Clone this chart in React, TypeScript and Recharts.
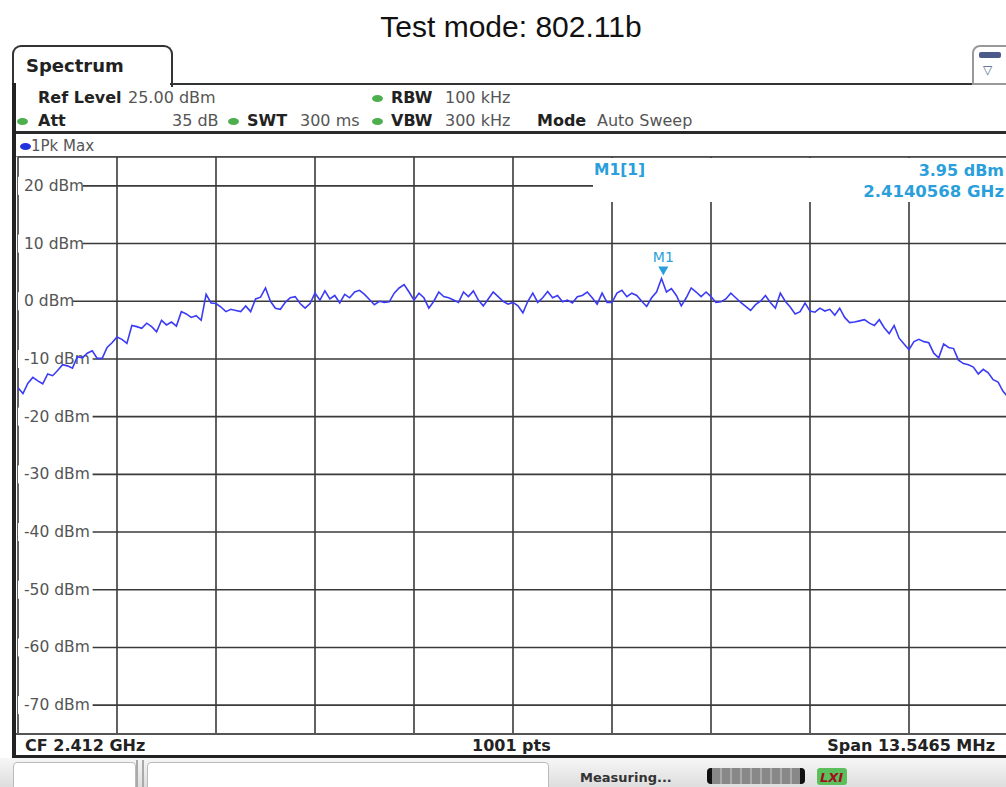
import { LineChart, Line, XAxis, YAxis, CartesianGrid, ReferenceDot } from 'recharts';

const cfGHz = 2.412;
const spanGHz = 0.0135465;
const sweepSteps = 200;

// 1Pk Max trace in dBm, 20 readings per grid division, left to right
const traceDbm = [
  -15.0, -16.0, -14.2, -13.2, -13.8, -14.3, -12.6, -12.9, -12.0, -11.0, -11.2, -11.6, -9.6, -9.8, -9.0, -8.6, -9.9, -9.9, -8.0, -7.2,
  -6.2, -6.6, -7.3, -4.2, -4.4, -4.7, -3.8, -4.4, -5.3, -3.3, -4.1, -3.6, -4.3, -1.8, -2.2, -2.8, -2.5, -3.3, 1.2, -0.3,
  -0.4, -1.0, -1.8, -1.4, -1.6, -1.8, -0.8, -1.8, 0.4, 0.7, 2.3, 0.0, -1.2, -1.4, -0.2, 0.6, 0.8, -0.4, -1.2, -0.4,
  1.4, 0.2, 1.8, 0.4, 1.0, -0.3, 1.2, 0.6, 1.6, 1.9, 1.2, 0.3, -0.6, 0.0, -0.2, -0.1, 1.4, 2.3, 2.9, 1.6,
  0.2, 1.4, 0.6, -1.2, 0.0, 1.6, 0.8, 0.6, 0.2, -0.2, 1.6, 0.8, 1.8, 0.2, -0.8, 0.4, 1.6, 0.8, 0.0, -0.5,
  -0.2, -0.8, -2.0, 0.0, 1.4, -0.2, 0.6, 1.7, 0.6, 1.0, -0.1, 0.2, -0.3, 0.8, 1.0, 1.6, 0.6, -0.5, 1.4, -0.2,
  -0.2, 1.4, 1.9, 0.8, 1.4, 1.0, 0.0, -0.9, 0.6, 1.6, 3.95, 1.6, 2.2, 1.0, -0.8, 0.6, 2.3, 1.6, 0.8, 1.6,
  0.8, -0.2, -0.1, 0.4, 1.4, 0.6, -0.2, -0.9, -1.6, -0.6, 0.0, 1.0, -0.2, -1.2, 1.4, 0.0, -1.0, -2.2, -1.8, -0.3,
  -1.7, -1.9, -1.2, -1.7, -1.4, -2.4, -1.2, -2.8, -3.7, -3.6, -3.4, -3.2, -3.8, -4.2, -3.2, -4.6, -5.6, -4.2, -6.4, -7.4,
  -8.4, -7.0, -6.6, -7.0, -7.2, -9.0, -9.8, -7.4, -8.0, -8.2, -10.2, -10.8, -11.0, -11.4, -12.6, -11.8, -12.4, -13.6, -14.0, -15.6,
  -16.6,
];

const divisions = [0, 1, 2, 3, 4, 5, 6, 7, 8, 9, 10];
const levelTicks = [20, 10, 0, -10, -20, -30, -40, -50, -60, -70];
const markerFreqGHz = 2.4140568;
const markerDbm = 3.95;

const startGHz = cfGHz - spanGHz / 2;
const data = traceDbm.map((v, i) => ({ f: startGHz + (i * spanGHz) / sweepSteps, v }));
const freqTicks = divisions.map((k) => startGHz + (k * spanGHz) / 10);
const levelDomain = [-75, 25];

const ui = '"DejaVu Sans", Verdana, sans-serif';
const markerBlue = '#2a9fdc';

const chartProps = {
  width: 1008,
  height: 734,
  data,
  margin: { top: 157, left: 18, right: 0, bottom: 0 },
};

const DbmTick = (props: any) => {
  const { x, y, payload } = props;
  const label = `${payload.value} dBm`;
  return (
    <g>
      <rect x={x} y={y - 9} width={label.length * 9.8 + 6} height={18} fill="#fff" />
      <text x={x + 6} y={y} dy={5} fontFamily={ui} fontSize={15.5} fill="#555">
        {label}
      </text>
    </g>
  );
};

const MarkerShape = (props: any) => {
  const { cx, cy } = props;
  return (
    <g>
      <path d={`M${cx - 5},${cy - 12} L${cx + 5},${cy - 12} L${cx},${cy - 3} Z`} fill={markerBlue} />
      <text x={cx} y={cy - 16} textAnchor="middle" fontFamily={ui} fontSize={14} fill={markerBlue}>
        M1
      </text>
    </g>
  );
};

const T = ({ x, y, children, size = 16, bold = false, color = '#222', right }: any) => (
  <div
    style={{
      position: 'absolute',
      left: right === undefined ? x : undefined,
      right: right,
      top: y - size / 2 - 1,
      fontFamily: ui,
      fontSize: size,
      lineHeight: `${size + 2}px`,
      fontWeight: bold ? 'bold' : 'normal',
      color,
      whiteSpace: 'nowrap',
    }}
  >
    {children}
  </div>
);

const Dot = ({ x, y, color = '#4cae4c' }: any) => (
  <div
    style={{
      position: 'absolute',
      left: x - 5,
      top: y - 3,
      width: 11,
      height: 7,
      borderRadius: '50%',
      background: color,
    }}
  />
);

const box = (s: any) => <div style={{ position: 'absolute', ...s }} />;

export default function App() {
  return (
    <div
      style={{
        position: 'absolute',
        left: 0,
        top: 0,
        width: 1006,
        height: 787,
        overflow: 'hidden',
        background: '#fff',
      }}
    >
      <div
        style={{
          position: 'absolute',
          left: 0,
          top: 12,
          width: 1022,
          textAlign: 'center',
          fontFamily: '"Liberation Sans", Arial, sans-serif',
          fontSize: 30,
          lineHeight: '30px',
          color: '#111',
        }}
      >
        Test mode: 802.11b
      </div>

      {/* tab + header frame */}
      {box({ left: 12, top: 45, width: 157, height: 40, border: '2px solid #333', borderBottom: 'none', borderRadius: '9px 9px 0 0', background: '#fff' })}
      <T x={26} y={66} size={18} bold>
        Spectrum
      </T>
      {box({ left: 170, top: 83, width: 804, height: 2, background: '#333' })}
      {box({ left: 972, top: 45, width: 40, height: 36, border: '2px solid #999', borderRadius: '8px 0 0 0', background: '#fff' })}
      {box({ left: 979, top: 52, width: 22, height: 6, background: '#4a5a8a', borderRadius: 2 })}
      <T x={983} y={70} size={12} color="#4a5a8a">
        ▽
      </T>
      {box({ left: 12, top: 83, width: 4, height: 675, background: '#222' })}

      <T x={38} y={98} bold>
        Ref Level
      </T>
      <T x={128} y={98} color="#555">
        25.00 dBm
      </T>
      <Dot x={377} y={98} />
      <T x={391} y={98} bold>
        RBW
      </T>
      <T x={445} y={98} color="#555">
        100 kHz
      </T>

      <Dot x={22} y={121} />
      <T x={38} y={121} bold>
        Att
      </T>
      <T x={172} y={121} color="#555">
        35 dB
      </T>
      <Dot x={233} y={121} />
      <T x={247} y={121} bold>
        SWT
      </T>
      <T x={300} y={121} color="#555">
        300 ms
      </T>
      <Dot x={377} y={121} />
      <T x={391} y={121} bold>
        VBW
      </T>
      <T x={445} y={121} color="#555">
        300 kHz
      </T>
      <T x={537} y={121} bold>
        Mode
      </T>
      <T x={597} y={121} color="#555">
        Auto Sweep
      </T>

      {box({ left: 16, top: 131, width: 990, height: 3, background: '#2a2a2a' })}
      <Dot x={25} y={146} color="#2233dd" />
      <T x={31} y={146} size={15} color="#555">
        1Pk Max
      </T>
      {box({ left: 16, top: 156, width: 990, height: 1, background: '#888' })}

      {/* grid and level labels underneath */}
      <LineChart {...chartProps} style={{ position: 'absolute', left: 0, top: 0 }}>
        <CartesianGrid stroke="#3a3a3a" strokeWidth={1.6} />
        <XAxis
          type="number"
          dataKey="f"
          domain={[freqTicks[0], freqTicks[10]]}
          ticks={freqTicks}
          interval={0}
          allowDataOverflow
          hide
        />
        <YAxis
          type="number"
          domain={levelDomain}
          ticks={levelTicks}
          interval={0}
          allowDataOverflow
          mirror
          width={80}
          tickSize={0}
          tickMargin={0}
          axisLine={false}
          tickLine={false}
          tick={<DbmTick />}
        />
        <Line dataKey="v" stroke="none" dot={false} isAnimationActive={false} />
      </LineChart>

      {/* the trace on top */}
      <LineChart {...chartProps} style={{ position: 'absolute', left: 0, top: 0 }}>
        <XAxis
          type="number"
          dataKey="f"
          domain={[freqTicks[0], freqTicks[10]]}
          allowDataOverflow
          hide
        />
        <YAxis type="number" domain={levelDomain} allowDataOverflow hide />
        <Line
          type="linear"
          dataKey="v"
          stroke="#3b3bf5"
          strokeWidth={1.6}
          dot={false}
          isAnimationActive={false}
        />
        <ReferenceDot x={markerFreqGHz} y={markerDbm} shape={MarkerShape} ifOverflow="visible" />
      </LineChart>

      {/* marker readout */}
      {box({ left: 593, top: 158, width: 413, height: 44, background: '#fff' })}
      <T x={594} y={171} size={15.5} bold color={markerBlue}>
        M1[1]
      </T>
      <T right={2} y={171} size={16} bold color={markerBlue}>
        3.95 dBm
      </T>
      <T right={2} y={192} size={16.5} bold color={markerBlue}>
        2.4140568 GHz
      </T>

      {/* bottom info bar */}
      {box({ left: 16, top: 733, width: 990, height: 2, background: '#555' })}
      <T x={25} y={746} bold>
        CF 2.412 GHz
      </T>
      <T x={472} y={746} bold>
        1001 pts
      </T>
      <T right={11} y={746} bold>
        Span 13.5465 MHz
      </T>
      {box({ left: 12, top: 755, width: 994, height: 3, background: '#222', borderRadius: '0 0 0 4px' })}

      {/* status bar */}
      {box({ left: 0, top: 758, width: 1006, height: 29, background: 'linear-gradient(#f6f6f6, #dedede)' })}
      {box({ left: 13, top: 762, width: 121, height: 27, background: '#fff', border: '1px solid #bbb', borderRadius: '4px 4px 0 0' })}
      {box({ left: 136, top: 760, width: 2, height: 27, background: '#aaa' })}
      {box({ left: 142, top: 760, width: 2, height: 27, background: '#aaa' })}
      {box({ left: 147, top: 762, width: 400, height: 27, background: '#fff', border: '1px solid #bbb', borderRadius: '4px 4px 0 0' })}
      <T x={580} y={777} size={13} bold color="#333">
        Measuring...
      </T>
      {box({ left: 707, top: 768, width: 98, height: 16, background: 'repeating-linear-gradient(90deg, #888 0 8px, #aaa 8px 10px)', borderLeft: '5px solid #111', borderRight: '5px solid #111', borderRadius: 4, boxSizing: 'border-box' })}
      {box({ left: 817, top: 768, width: 30, height: 17, background: '#5bbf5b', borderRadius: 3 })}
      <T x={820} y={777} size={13} bold color="#a01020">
        <i>LXI</i>
      </T>
    </div>
  );
}
